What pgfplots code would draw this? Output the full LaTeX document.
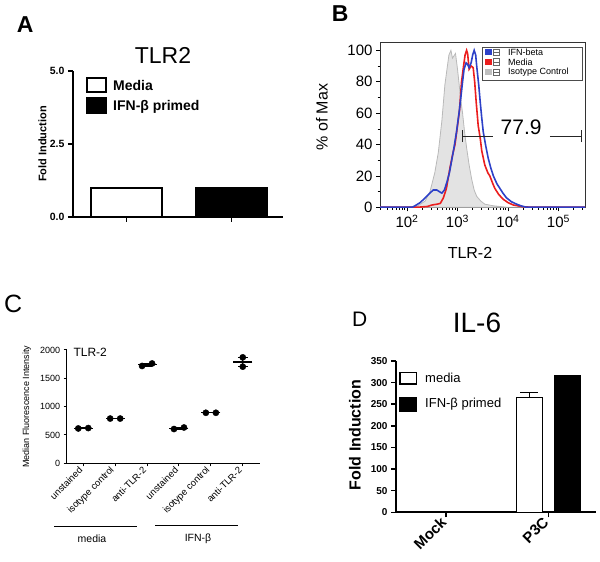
\documentclass[border=0pt]{standalone}
\usepackage{pgfplots}
\pgfplotsset{compat=1.18}
\usepackage{fontspec}
\setmainfont{Liberation Sans}
\newcommand{\fs}[1]{\fontsize{#1}{#1}\selectfont}
\pgfplotsset{every axis/.append style={/pgf/number format/assume math mode=true, /pgf/number format/1000 sep={}}}
\definecolor{hred}{RGB}{235,30,30}
\definecolor{hblue}{RGB}{45,65,200}
\begin{document}
\begin{tikzpicture}[x=1pt,y=1pt]
\useasboundingbox (0,0) rectangle (600,562);

% ================= Panel A
\node[anchor=west,font=\fs{23}\bfseries,inner sep=0] at (16.7,537) {A};
\node[font=\fs{23},inner sep=0] at (163,506.5) {TLR2};
\begin{axis}[at={(73pt,345pt)}, anchor=south west, scale only axis, width=210pt, height=146pt,
  xmin=-0.51, xmax=1.49, ymin=0, ymax=5,
  axis x line*=bottom, axis y line*=left,
  axis line style={line width=1.8pt},
  ytick={0,2.5,5}, yticklabels={0.0,2.5,5.0},
  xtick={0,1}, xticklabels={},
  tick style={line width=1.5pt, black}, major tick length=5pt, tick align=outside,
  yticklabel style={font=\fs{10.5}\bfseries},
  ylabel={Fold Induction}, ylabel style={font=\fs{11}\bfseries, at={(axis description cs:-0.145,0.5)}, anchor=center},
  ybar, bar shift=0pt, bar width=0.676, clip=false]
\addplot[fill=white, draw=black, line width=1.6pt] coordinates {(0,1)};
\addplot[fill=black, draw=black, line width=1.6pt] coordinates {(1,1)};
\end{axis}
\draw[line width=1.5pt, fill=white] (87,484) rectangle (106,470);
\draw[line width=1.5pt, fill=black] (87,464) rectangle (106,449);
\node[anchor=base west, font=\fs{14}\bfseries, inner sep=0] at (113,471.3) {Media};
\node[anchor=base west, font=\fs{14}\bfseries, inner sep=0] at (113,451.3) {IFN-β primed};

% ================= Panel B
\node[anchor=west,font=\fs{23}\bfseries,inner sep=0] at (331.7,548.7) {B};
\begin{axis}[at={(380pt,354.7pt)}, anchor=south west, scale only axis, width=205pt, height=165.3pt,
  xmin=1.465, xmax=5.525, ymin=0, ymax=105.3,
  axis line style={line width=0.8pt, black!80},
  xtick={2,3,4,5}, xticklabels={10\textsuperscript{2},10\textsuperscript{3},10\textsuperscript{4},10\textsuperscript{5}},
  minor xtick={1.477,1.602,1.699,1.778,1.845,1.903,1.954,
    2.301,2.477,2.602,2.699,2.778,2.845,2.903,2.954,
    3.301,3.477,3.602,3.699,3.778,3.845,3.903,3.954,
    4.301,4.477,4.602,4.699,4.778,4.845,4.903,4.954,
    5.301,5.477},
  ytick={0,20,...,100}, minor ytick={10,30,50,70,90},
  tick align=outside, major tick length=4pt, minor tick length=2.5pt,
  xtick pos=left, ytick pos=left,
  tick style={black, line width=0.6pt},
  ticklabel style={font=\fs{15}},
  ylabel={\% of Max}, ylabel style={font=\fs{16}, at={(axis description cs:-0.283,0.545)}, anchor=center},
  xlabel={TLR-2}, xlabel style={font=\fs{16}, at={(axis description cs:0.439,-0.276)}, anchor=center}]
% isotype control (filled grey)
\addplot[fill=gray!22, draw=gray!55, line width=0.8pt] table {
1.465 0
2.0 0
2.22 1
2.36 4
2.455 10
2.55 22
2.62 35
2.69 55
2.75 78
2.80 90
2.83 97
2.87 100
2.90 95
2.92 96
2.96 98
3.00 88
3.02 82
3.06 70
3.10 60
3.14 48
3.18 38
3.23 27
3.28 18
3.33 11
3.38 7
3.46 4
3.54 2
3.70 1
3.90 0.3
4.0 0
5.525 0
} \closedcycle;
% media (red)
\addplot[hred, line width=1.6pt] table {
1.465 0
2.2 0
2.4 0.5
2.5 1.5
2.6 2
2.66 2.5
2.72 6
2.78 12
2.85 25
2.90 33
2.95 40
3.00 52
3.04 62
3.08 80
3.12 90
3.15 97
3.18 100
3.20 98
3.23 88
3.27 90
3.31 89
3.34 80
3.37 67
3.41 52
3.45 44
3.48 36
3.54 27
3.60 22
3.64 20
3.70 15
3.74 12
3.82 8
3.91 5
4.00 3
4.10 1.5
4.30 0.3
4.50 0
5.525 0
};
% IFN-beta (blue)
\addplot[hblue, line width=1.6pt] table {
1.465 0
2.10 0
2.16 1
2.26 3
2.36 6
2.45 9
2.52 11
2.59 11
2.64 10
2.69 9
2.74 11
2.79 16
2.84 22
2.88 29
2.93 38
2.98 48
3.03 60
3.07 71
3.10 80
3.13 88
3.17 92
3.20 91
3.23 89
3.27 92
3.30 97
3.33 100
3.36 97
3.38 90
3.42 78
3.45 67
3.48 57
3.51 48
3.56 39
3.61 31
3.66 25
3.71 20
3.78 15
3.84 12
3.90 9
3.97 6
4.07 3.5
4.17 2
4.27 0.8
4.37 0
5.525 0
};
% gate
\draw[black!85, line width=0.9pt] (axis cs:3.09,45.4) -- (axis cs:3.70,45.4);
\draw[black!85, line width=0.9pt] (axis cs:4.83,45.4) -- (axis cs:5.446,45.4);
\draw[black!85, line width=0.9pt] (axis cs:3.09,41.5) -- (axis cs:3.09,49.3);
\draw[black!85, line width=0.9pt] (axis cs:5.446,41.5) -- (axis cs:5.446,49.3);
\node[font=\fs{21}, inner sep=0] at (axis cs:4.26,51) {77.9};
\end{axis}
% legend B
\draw[black!70, line width=0.6pt, fill=white] (482.7,515) rectangle (582.7,482);
\foreach \yy/\cc/\tt in {509.8/hblue/IFN-beta, 500.2/hred/Media, 489.7/gray!50/Isotype Control}{
  \fill[\cc] (485,\yy-3.2) rectangle (491.5,\yy+3.2);
  \draw[black!60, line width=0.4pt, fill=white] (493,\yy-3.2) rectangle (499.5,\yy+3.2);
  \draw[black!60, line width=0.4pt] (493,\yy) -- (499.5,\yy);
  \node[anchor=west, font=\fs{9}, inner sep=0] at (508,\yy) {\tt};
}

% ================= Panel C
\node[anchor=west,font=\fs{25},inner sep=0] at (4,258) {C};
\begin{axis}[at={(66.7pt,98.7pt)}, anchor=south west, scale only axis, width=193.3pt, height=113.3pt,
  xmin=-0.52, xmax=5.54, ymin=0, ymax=2000,
  axis x line*=bottom, axis y line*=left, axis line style={line width=1.2pt},
  ytick={0,500,...,2000}, xtick={0,...,5},
  xticklabels={unstained,isotype control,anti-TLR-2,unstained,isotype control,anti-TLR-2},
  xticklabel style={rotate=45, anchor=east, font=\fs{9.5}},
  yticklabel style={font=\fs{9}},
  tick align=outside, major tick length=3pt, tick style={line width=1pt,black},
  ylabel={Median Fluorescence Intensity}, ylabel style={font=\fs{9}, at={(axis description cs:-0.207,0.5)}, anchor=center},
  clip=false]
% individual points
\addplot[only marks, mark=*, mark size=3.1pt, black] coordinates {
(-0.157,615) (0.157,622)
(0.843,790) (1.157,790)
(1.843,1718) (2.157,1762)
(2.843,605) (3.157,632)
(3.843,892) (4.157,892)
(5,1870) (5,1706)
};
% means with SEM
\addplot[only marks, mark=-, mark size=9.5pt, black, line width=1.3pt,
  error bars/.cd, y dir=both, y explicit, error bar style={line width=1.2pt, black},
  error mark options={rotate=90, mark size=5pt, line width=1.2pt}] coordinates {
(0,618.5) +- (0,3.5)
(1,790) +- (0,0)
(2,1740) +- (0,22)
(3,618.5) +- (0,13.5)
(4,892) +- (0,0)
(5,1788) +- (0,82)
};
\end{axis}
\node[anchor=base west, font=\fs{12}, inner sep=0] at (73.3,205) {TLR-2};
\draw[line width=1.3pt] (54,35.3) -- (137,35.3);
\draw[line width=1.3pt] (155,36.3) -- (238,36.3);
\node[font=\fs{10.5}, inner sep=0] at (92,23) {media};
\node[font=\fs{10.5}, inner sep=0] at (198,23) {IFN-β};

% ================= Panel D
\node[anchor=west,font=\fs{21},inner sep=0] at (352,242.8) {D};
\node[font=\fs{28},inner sep=0] at (477,238.7) {IL-6};
\begin{axis}[at={(396pt,49.7pt)}, anchor=south west, scale only axis, width=200pt, height=151.3pt,
  xmin=-0.489, xmax=1.466, ymin=0, ymax=350,
  axis x line*=bottom, axis y line*=left, axis line style={line width=1.8pt},
  ytick={0,50,...,350}, xtick={0,1}, xticklabels={Mock,P3C},
  xticklabel style={rotate=45, anchor=east, font=\fs{15}\bfseries},
  yticklabel style={font=\fs{10}\bfseries},
  tick align=outside, major tick length=5pt, tick style={line width=1.5pt, black},
  ylabel={Fold Induction}, ylabel style={font=\fs{16}\bfseries, at={(axis description cs:-0.205,0.511)}, anchor=center},
  ybar, bar shift=0pt, bar width=0.254, clip=false]
\addplot[fill=white, draw=black, line width=1.2pt,
  error bars/.cd, y dir=plus, y explicit, error bar style={line width=1.5pt, black},
  error mark options={rotate=90, mark size=9pt, line width=1.5pt}] coordinates {
(-0.186,2) +- (0,0)
(0.814,266) +- (0,11.6)
};
\addplot[fill=black, draw=black, line width=1.2pt] coordinates {
(0.186,2)
(1.186,316)
};
\end{axis}
\draw[line width=1.5pt, fill=white] (400,189.7) rectangle (416.7,178);
\draw[line width=1.5pt, fill=black] (400,164.7) rectangle (416.7,150.3);
\node[anchor=west, font=\fs{13}, inner sep=0] at (425,184) {media};
\node[anchor=west, font=\fs{13}, inner sep=0] at (425,157.5) {IFN-β primed};
\end{tikzpicture}
\end{document}
